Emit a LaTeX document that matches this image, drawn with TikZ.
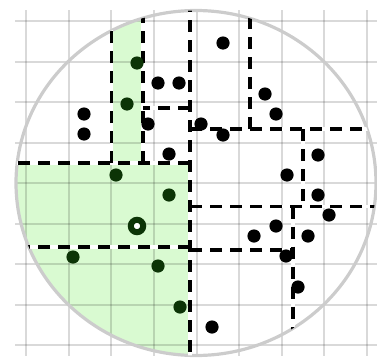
\documentclass[tikz,border=0pt]{standalone}
\definecolor{regiongreen}{RGB}{217,250,209}
\definecolor{dotgreen}{RGB}{12,52,6}
\definecolor{gridgray}{RGB}{217,217,217}
\definecolor{ringgray}{RGB}{204,204,204}
\begin{document}
\begin{tikzpicture}[x=1pt,y=-1pt,
  gridline/.style={draw=black,opacity=0.15,line width=2pt},
  border/.style={draw=ringgray,line width=3.2pt},
  splitunder/.style={draw=white,line width=3.4pt},
  splitline/.style={draw=black,line width=3.2pt,dash pattern=on 12pt off 8pt},
  bdot/.style={circle,fill=black,inner sep=0pt,minimum size=13.2pt},
  gdot/.style={circle,fill=dotgreen,inner sep=0pt,minimum size=13.2pt},
  ringdot/.style={circle,draw=dotgreen,fill=white,line width=6pt,inner sep=0pt,minimum size=12.4pt}]
\useasboundingbox (0,0) rectangle (377,359);
% green region
\begin{scope}
  \clip (196,183) ellipse [x radius=180pt, y radius=172.5pt];
  \fill[regiongreen] (111.5,0) rectangle (143,163);
  \fill[regiongreen] (0,163) rectangle (190,360);
\end{scope}
% grid
\foreach \i in {0,...,8}{
  \draw[gridline] ({26+42.625*\i},10) -- ({26+42.625*\i},356);
  \draw[gridline] (15,{21+40.5*\i}) -- (377,{21+40.5*\i});
}
% circle
\draw[border] (196,183) ellipse [x radius=180pt, y radius=172.5pt];
% split lines
\coordinate (a1) at (190,0);    \coordinate (a2) at (190,360);
\coordinate (b1) at (190,163);  \coordinate (b2) at (0,163);
\coordinate (c1) at (143,163);  \coordinate (c2) at (143,0);
\coordinate (d1) at (111.5,163);\coordinate (d2) at (111.5,0);
\coordinate (e1) at (190,108);  \coordinate (e2) at (143,108);
\coordinate (f1) at (190,247);  \coordinate (f2) at (0,247);
\coordinate (g1) at (250,129);  \coordinate (g2) at (250,0);
\coordinate (h1) at (190,129);  \coordinate (h2) at (400,129);
\coordinate (i1) at (303,129);  \coordinate (i2) at (303,206.5);
\coordinate (j1) at (190,206.5);\coordinate (j2) at (400,206.5);
\coordinate (k1) at (293,206.5);\coordinate (k2) at (293,400);
\coordinate (l1) at (190,250);  \coordinate (l2) at (293,250);
\begin{scope}
  \clip (196,183) ellipse [x radius=180pt, y radius=172.5pt];
  \foreach \p/\q in {a1/a2,b1/b2,c1/c2,d1/d2,e1/e2,f1/f2,g1/g2,h1/h2,i1/i2,j1/j2,k1/k2,l1/l2}{
    \draw[splitunder] (\p) -- (\q);
  }
  \foreach \p/\q in {a1/a2,b1/b2,c1/c2,d1/d2,e1/e2,f1/f2,g1/g2,h1/h2,i1/i2,j1/j2,k1/k2,l1/l2}{
    \draw[splitline] (\p) -- (\q);
  }
\end{scope}
% green points
\foreach \x/\y [count=\n] in {137/63,127/104,116/175,169/195,73/257,158/266,180/307}{
  \node[gdot] (g\n) at (\x,\y) {};
}
\node[ringdot] (query) at (137,226) {};
% black points
\foreach \x/\y [count=\n] in {158/83,179/83,84/114,84/134,148/124,169/154,223/43,265/94,276/114,201/124,223/135,318/155,287/175,318/195,329/215,276/226,254/236,308/236,286/256,298/287,212/327}{
  \node[bdot] (p\n) at (\x,\y) {};
}
\end{tikzpicture}
\end{document}
